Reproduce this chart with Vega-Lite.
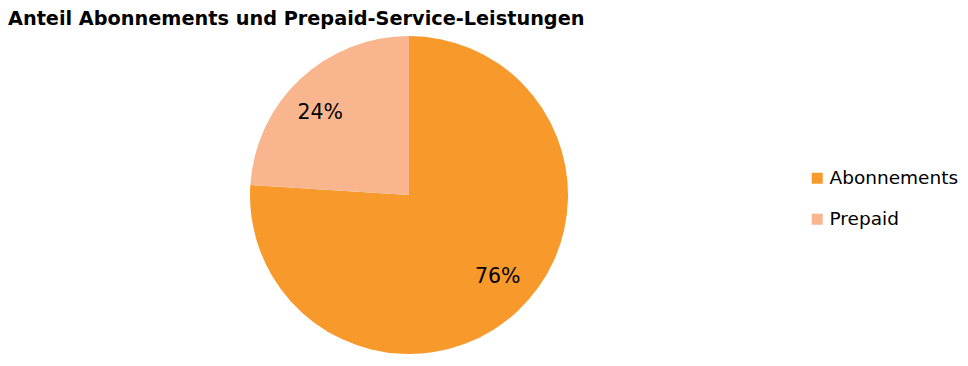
{
  "$schema": "https://vega.github.io/schema/vega-lite/v6.json",
  "autosize": "none",
  "width": 818,
  "height": 318,
  "padding": {"left": 0, "top": 36, "right": 150, "bottom": 12},
  "background": "white",
  "title": {
    "text": "Anteil Abonnements und Prepaid-Service-Leistungen",
    "anchor": "start",
    "frame": "bounds",
    "font": "DejaVu Sans",
    "fontSize": 19.3,
    "fontWeight": "bold",
    "color": "#000000",
    "offset": 7,
    "dx": 8
  },
  "data": {
    "values": [
      {"category": "Abonnements", "share": 76, "label": "76%"},
      {"category": "Prepaid", "share": 24, "label": "24%"}
    ]
  },
  "encoding": {
    "theta": {"field": "share", "type": "quantitative", "stack": true},
    "order": {"field": "share", "type": "quantitative", "sort": "descending"}
  },
  "layer": [
    {
      "mark": {"type": "arc", "radius": 159},
      "encoding": {
        "color": {
          "field": "category",
          "type": "nominal",
          "scale": {"domain": ["Abonnements", "Prepaid"], "range": ["#F7992B", "#F9B68E"]},
          "legend": {
            "title": null,
            "orient": "none",
            "legendX": 808,
            "legendY": 133,
            "symbolType": "square",
            "symbolSize": 121,
            "symbolStrokeWidth": 0,
            "symbolOpacity": 1,
            "labelFont": "DejaVu Sans",
            "labelFontSize": 18.5,
            "labelColor": "#000000",
            "labelOffset": 3,
            "rowPadding": 22
          }
        }
      }
    },
    {
      "mark": {"type": "text", "radius": 121, "thetaOffset": -0.07, "font": "DejaVu Sans", "fontSize": 20.5, "color": "#000000"},
      "encoding": {"text": {"field": "label"}}
    }
  ],
  "config": {"view": {"stroke": null}}
}
